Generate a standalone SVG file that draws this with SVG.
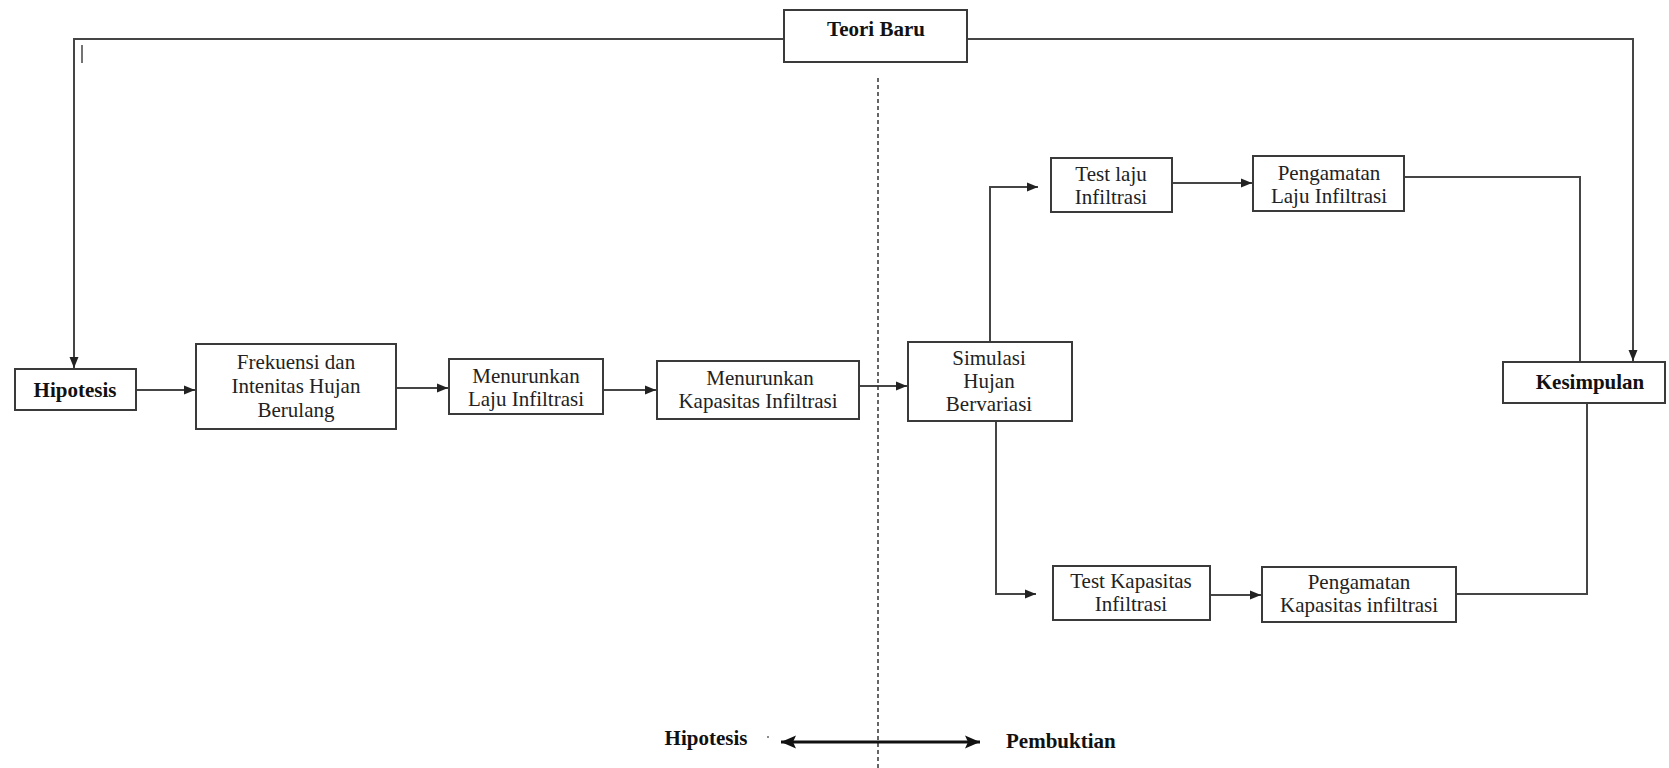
<svg xmlns="http://www.w3.org/2000/svg" width="1669" height="768" viewBox="0 0 1669 768">
<style>
  .box { fill: #ffffff; stroke: #3a3a3a; stroke-width: 2; }
  .t { font-family: "Liberation Serif", "Times New Roman", serif; font-size: 21px; fill: #222; text-anchor: middle; }
  .b { font-weight: bold; fill: #111; }
  .ln { fill: none; stroke: #454545; stroke-width: 2; }
  .dash { fill: none; stroke: #333; stroke-width: 1.5; stroke-dasharray: 4 3; }
</style>
<defs>
  <marker id="arr" markerUnits="userSpaceOnUse" markerWidth="12" markerHeight="10" refX="11" refY="5" orient="auto">
    <path d="M0,0.5 L11,5 L0,9.5 Z" fill="#222"/>
  </marker>
  <marker id="big" markerUnits="userSpaceOnUse" markerWidth="16" markerHeight="14" refX="15" refY="7" orient="auto-start-reverse">
    <path d="M0,0.5 L15,7 L0,13.5 L3,7 Z" fill="#111"/>
  </marker>
</defs>
<rect width="1669" height="768" fill="#ffffff"/>

<g id="connectors">
  <path class="ln" d="M784 39 H74 V368" marker-end="url(#arr)"/>
  <path class="ln" d="M967 39 H1633 V361" marker-end="url(#arr)"/>
  <line x1="82" y1="45" x2="82" y2="63" stroke="#444" stroke-width="1.5"/>
  <path class="ln" d="M136 390 H195" marker-end="url(#arr)"/>
  <path class="ln" d="M396 388 H448" marker-end="url(#arr)"/>
  <path class="ln" d="M603 390 H656" marker-end="url(#arr)"/>
  <path class="ln" d="M859 386 H907" marker-end="url(#arr)"/>
  <path class="ln" d="M990 342 V187 H1038" marker-end="url(#arr)"/>
  <path class="ln" d="M1172 183 H1252" marker-end="url(#arr)"/>
  <path class="ln" d="M996 421 V594 H1036" marker-end="url(#arr)"/>
  <path class="ln" d="M1210 595 H1261" marker-end="url(#arr)"/>
  <path class="ln" d="M1404 177 H1580 V362"/>
  <path class="ln" d="M1456 594 H1587 V403"/>
  <line class="dash" x1="878" y1="78" x2="878" y2="768"/>
  <line x1="781" y1="742" x2="980" y2="742" stroke="#111" stroke-width="3" marker-start="url(#big)" marker-end="url(#big)"/>
  <line x1="767" y1="737" x2="769" y2="737" stroke="#666" stroke-width="1.5"/>
</g>

<g id="teori-baru">
  <rect class="box" x="784" y="10" width="183" height="52"/>
  <text class="t b" x="876" y="36">Teori Baru</text>
</g>

<g id="hipotesis">
  <rect class="box" x="15" y="369" width="121" height="41"/>
  <text class="t b" x="75" y="397">Hipotesis</text>
</g>

<g id="frekuensi">
  <rect class="box" x="196" y="344" width="200" height="85"/>
  <text class="t" x="296" y="369">Frekuensi dan</text>
  <text class="t" x="296" y="393">Intenitas Hujan</text>
  <text class="t" x="296" y="417">Berulang</text>
</g>

<g id="menurunkan-laju">
  <rect class="box" x="449" y="359" width="154" height="55"/>
  <text class="t" x="526" y="383">Menurunkan</text>
  <text class="t" x="526" y="406">Laju Infiltrasi</text>
</g>

<g id="menurunkan-kapasitas">
  <rect class="box" x="657" y="361" width="202" height="58"/>
  <text class="t" x="760" y="385">Menurunkan</text>
  <text class="t" x="758" y="408">Kapasitas Infiltrasi</text>
</g>

<g id="simulasi">
  <rect class="box" x="908" y="342" width="164" height="79"/>
  <text class="t" x="989" y="365">Simulasi</text>
  <text class="t" x="989" y="388">Hujan</text>
  <text class="t" x="989" y="411">Bervariasi</text>
</g>

<g id="test-laju">
  <rect class="box" x="1051" y="158" width="121" height="54"/>
  <text class="t" x="1111" y="181">Test laju</text>
  <text class="t" x="1111" y="204">Infiltrasi</text>
</g>

<g id="pengamatan-laju">
  <rect class="box" x="1253" y="156" width="151" height="55"/>
  <text class="t" x="1329" y="180">Pengamatan</text>
  <text class="t" x="1329" y="203">Laju Infiltrasi</text>
</g>

<g id="test-kapasitas">
  <rect class="box" x="1053" y="566" width="157" height="54"/>
  <text class="t" x="1131" y="588">Test Kapasitas</text>
  <text class="t" x="1131" y="611">Infiltrasi</text>
</g>

<g id="pengamatan-kapasitas">
  <rect class="box" x="1262" y="567" width="194" height="55"/>
  <text class="t" x="1359" y="589">Pengamatan</text>
  <text class="t" x="1359" y="612">Kapasitas infiltrasi</text>
</g>

<g id="kesimpulan">
  <rect class="box" x="1503" y="362" width="162" height="41"/>
  <text class="t b" x="1590" y="389">Kesimpulan</text>
</g>

<g id="legend">
  <text class="t b" x="706" y="745">Hipotesis</text>
  <text class="t b" x="1006" y="748" style="text-anchor:start">Pembuktian</text>
</g>
</svg>
